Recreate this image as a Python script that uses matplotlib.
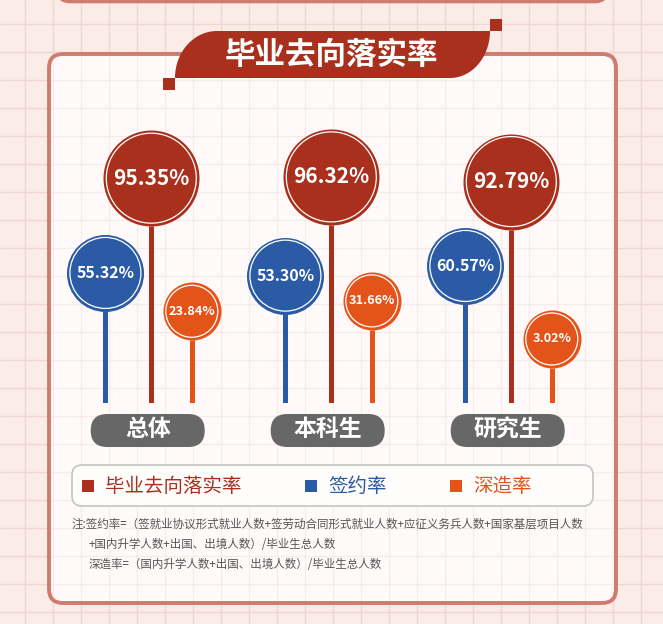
import matplotlib.pyplot as plt
from matplotlib.patches import FancyBboxPatch, PathPatch, Rectangle
from matplotlib.path import Path
from matplotlib.transforms import offset_copy
import numpy as np

plt.rcParams['font.family'] = ['Noto Sans CJK SC', 'DejaVu Sans']

W, H = 663, 624  # canvas size in pixels (dpi 100)

title = "毕业去向落实率"
categories = ["总体", "本科生", "研究生"]
series_names = ["毕业去向落实率", "签约率", "深造率"]
placement_rate = [95.35, 96.32, 92.79]
contract_rate = [55.32, 53.30, 60.57]
further_rate = [23.84, 31.66, 3.02]
notes = [
    "注:签约率=（签就业协议形式就业人数+签劳动合同形式就业人数+应征义务兵人数+国家基层项目人数",
    "+国内升学人数+出国、出境人数）/毕业生总人数",
    "深造率=（国内升学人数+出国、出境人数）/毕业生总人数",
]

RED, BLUE, ORANGE = "#a8301c", "#2b5ba5", "#e4531a"
PILL = "#676767"
BORDER = "#cf7b6f"
CARD = "#fffaf9"

# style per series (same order as series_names)
colors = [RED, BLUE, ORANGE]
radius_px = [48, 38.5, 29]
x_shift = [0.0, -0.255, 0.225]
label_size = [15, 11.5, 9.2]
lift_px = [50, 18, 31]  # each series sits on its own offset scale

STEM_BASE = 403      # px from top where the stems end
PX_PER_PCT = 1.33
SPAN = 140
GX0, GDX = 151.3, 180.0
X_LO, X_HI = -0.8, 2.8

fig = plt.figure(figsize=(W / 100, H / 100), dpi=100)
bg = fig.add_axes([0, 0, 1, 1])
bg.set_xlim(0, W)
bg.set_ylim(H, 0)
bg.axis('off')

# page background with grid
bg.add_patch(Rectangle((0, 0), W, H, fc="#fbece8", ec="none", zorder=0))
gx = np.arange(25, W, 28)
gy = np.arange(24, H, 28)
bg.vlines(gx, 0, H, colors="#efd6d0", lw=1.0, zorder=1)
bg.hlines(gy, 0, W, colors="#efd6d0", lw=1.0, zorder=1)

# previous card peeking at the top
bg.add_patch(FancyBboxPatch((58, -40), 549, 41.5, boxstyle="round,pad=0,rounding_size=12",
                            fc=CARD, ec=BORDER, lw=2.6, zorder=2))

# main card
card = FancyBboxPatch((49, 54), 567, 549, boxstyle="round,pad=0,rounding_size=14",
                      fc=CARD, ec="none", zorder=2)
bg.add_patch(card)
inner_v = bg.vlines(gx, 0, H, colors="#f7ebe8", lw=1.0, zorder=2.1)
inner_h = bg.hlines(gy, 0, W, colors="#f7ebe8", lw=1.0, zorder=2.1)
inner_v.set_clip_path(card)
inner_h.set_clip_path(card)
bg.add_patch(FancyBboxPatch((49, 54), 567, 549, boxstyle="round,pad=0,rounding_size=14",
                            fc="none", ec=BORDER, lw=2.8, zorder=2.2))

# title banner (two opposite rounded corners)
k = 0.5523
verts = [(175, 78), (175, 78 - 47 * k), (217 - 42 * k, 31), (217, 31),
         (490, 31), (490, 31 + 47 * k), (450 + 40 * k, 78), (450, 78), (175, 78)]
codes = [Path.MOVETO, Path.CURVE4, Path.CURVE4, Path.CURVE4,
         Path.LINETO, Path.CURVE4, Path.CURVE4, Path.CURVE4, Path.CLOSEPOLY]
bg.add_patch(PathPatch(Path(verts, codes), fc=RED, ec="none", zorder=4))
bg.add_patch(Rectangle((163, 78), 12, 12, fc=RED, ec="none", zorder=4))
bg.add_patch(Rectangle((490, 19), 12, 12, fc=RED, ec="none", zorder=4))
bg.text(331, 55, title, color="white", fontsize=22, fontweight="bold",
        ha="center", va="center", zorder=5)

# lollipop circles, one axes per series sharing the same frame
rect = [(GX0 + X_LO * GDX) / W, (H - STEM_BASE) / H,
        (X_HI - X_LO) * GDX / W, SPAN * PX_PER_PCT / H]
values = [placement_rate, contract_rate, further_rate]
axes = []
for vals, col, r, dx, fs, lift in zip(values, colors, radius_px, x_shift, label_size, lift_px):
    ax = fig.add_axes(rect)
    floor = -lift / PX_PER_PCT
    ax.set_xlim(X_LO, X_HI)
    ax.set_ylim(floor, floor + SPAN)
    ax.axis('off')
    x = np.arange(len(categories)) + dx
    ax.vlines(x, floor, vals, colors=col, lw=3.6, zorder=2)
    up = offset_copy(ax.transData, fig=fig, x=0, y=r, units='dots')
    d_pt = 2 * r * 0.72
    ax.scatter(x, vals, s=d_pt ** 2, color=col, linewidths=0, zorder=3,
               clip_on=False, transform=up)
    ax.scatter(x, vals, s=(d_pt - 6 * 0.72) ** 2, facecolors="none", edgecolors="white",
               linewidths=0.9, zorder=4, clip_on=False, transform=up)
    for xi, v in zip(x, vals):
        ax.annotate(f"{v:.2f}%", (xi, v), xytext=(0, r * 0.72), textcoords="offset points",
                    ha="center", va="center", color="white", fontsize=fs,
                    fontweight="bold", annotation_clip=False, zorder=5)
    axes.append(ax)

# category pills
for i, cat in enumerate(categories):
    cx = axes[0].transData.transform((i - 0.02, 0))[0]
    bg.add_patch(FancyBboxPatch((cx - 57, 414), 114, 33, boxstyle="round,pad=0,rounding_size=16.5",
                                fc=PILL, ec="none", zorder=4))
    bg.text(cx, 430, cat, color="white", fontsize=16.5, fontweight="bold",
            ha="center", va="center", zorder=5)

# legend
bg.add_patch(FancyBboxPatch((72, 465), 521, 41, boxstyle="round,pad=0,rounding_size=10",
                            fc="#fffdfc", ec="#c4c4c4", lw=1.2, zorder=4))
leg_sq_x = [82, 305, 450]
for name, col, sx in zip(series_names, colors, leg_sq_x):
    bg.add_patch(Rectangle((sx, 480), 12, 12, fc=col, ec="none", zorder=5))
    bg.text(sx + 23, 486, name, color=col, fontsize=14, ha="left", va="center", zorder=5)

# footnotes
note_pos = [(72, 524), (89, 544), (89, 564)]
for txt, (nx, ny) in zip(notes, note_pos):
    bg.text(nx, ny, txt, color="#555555", fontsize=8.3, ha="left", va="center", zorder=5)

fig.savefig("out.png", dpi=100)
